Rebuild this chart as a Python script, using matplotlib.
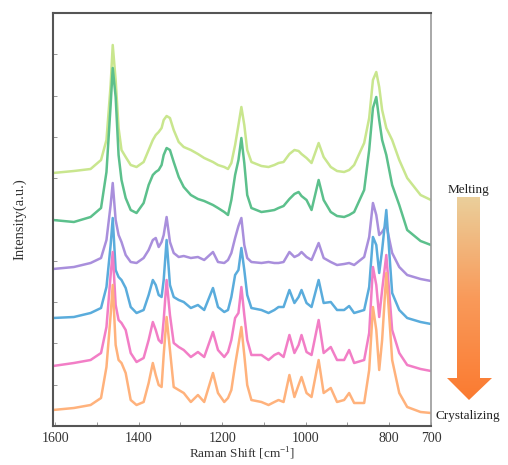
import matplotlib
matplotlib.use('Agg')
import matplotlib.pyplot as plt
from matplotlib.patches import Polygon
import numpy as np

# ~~~~~~~~~~~~ Data ~~~~~~~~~~~~~~~~~~~~~~~~~~~~~~~~~~~
shift = [1605, 1555, 1515, 1490, 1477, 1467, 1462, 1455, 1448, 1441, 1431, 1419, 1405,
         1388, 1376, 1366, 1359, 1352, 1345, 1340, 1333, 1325, 1316, 1304, 1292, 1275,
         1258, 1243, 1222, 1210, 1195, 1186, 1178, 1169, 1161, 1154, 1147, 1140, 1130,
         1106, 1089, 1075, 1065, 1053, 1039, 1027, 1017, 1010, 998, 986, 969, 957, 940,
         925, 908, 896, 884, 860, 848, 839, 831, 824, 817, 807, 793, 776, 757, 725, 700]

melt_1 = [253, 255, 257, 266, 286, 341, 381, 346, 298, 276, 269, 261, 259, 264, 276,
          286, 291, 294, 298, 306, 310, 308, 296, 284, 279, 276, 272, 268, 264, 261, 259,
          257, 263, 281, 301, 319, 301, 276, 264, 260, 259, 261, 263, 264, 272, 276, 275,
          272, 268, 263, 283, 269, 259, 255, 254, 256, 261, 283, 308, 346, 354, 339, 316,
          298, 286, 266, 248, 231, 226]
melt_2 = [206, 204, 209, 218, 254, 321, 358, 329, 271, 246, 228, 216, 213, 223, 241,
          251, 254, 256, 261, 271, 278, 276, 264, 249, 239, 231, 227, 225, 221, 218, 214,
          211, 226, 251, 266, 288, 263, 231, 218, 214, 215, 216, 218, 220, 227, 232, 234,
          230, 226, 216, 246, 226, 214, 210, 209, 211, 214, 236, 276, 318, 329, 306, 286,
          271, 241, 221, 196, 185, 181]
mid_1 = [157, 159, 163, 168, 186, 221, 243, 206, 191, 184, 171, 164, 163, 168, 176,
         186, 188, 179, 184, 191, 209, 184, 173, 169, 170, 168, 169, 166, 174, 164, 163,
         166, 173, 188, 200, 208, 181, 168, 164, 163, 164, 163, 163, 164, 174, 169, 171,
         174, 169, 166, 183, 168, 164, 161, 162, 163, 161, 169, 189, 223, 211, 191, 194,
         201, 173, 159, 151, 147, 145]
mid_2 = [108, 109, 113, 118, 139, 181, 208, 156, 149, 146, 138, 119, 113, 116, 131,
         146, 141, 131, 129, 146, 186, 141, 129, 126, 124, 118, 121, 116, 138, 119, 114,
         116, 129, 151, 156, 178, 156, 131, 118, 116, 113, 116, 119, 119, 136, 123, 129,
         136, 123, 119, 146, 123, 124, 116, 116, 120, 113, 116, 139, 189, 181, 153, 176,
         216, 133, 116, 108, 104, 102]
cryst_1 = [60, 63, 66, 73, 99, 151, 174, 121, 106, 103, 96, 73, 64, 68, 86, 104, 96,
           86, 83, 106, 146, 111, 83, 79, 76, 69, 74, 69, 94, 76, 69, 74, 86, 108, 113,
           139, 111, 86, 71, 71, 66, 71, 73, 69, 91, 73, 81, 91, 74, 71, 106, 73, 79, 66,
           66, 76, 63, 66, 93, 159, 141, 109, 136, 171, 96, 73, 61, 57, 55]
cryst_2 = [16, 18, 21, 28, 59, 111, 141, 81, 66, 63, 53, 26, 21, 24, 43, 63, 51, 41,
           39, 71, 109, 76, 39, 36, 33, 24, 31, 24, 53, 33, 24, 28, 36, 61, 81, 99, 71,
           41, 26, 24, 21, 24, 26, 24, 51, 29, 41, 49, 33, 29, 66, 33, 38, 24, 26, 33, 23,
           23, 56, 119, 96, 56, 86, 153, 66, 33, 19, 14, 13]

spectra = [melt_1, melt_2, mid_1, mid_2, cryst_1, cryst_2]
colors = ['#c9e68e', '#5cc08c', '#a98fdc', '#5aacdc', '#f27ec6', '#ffb27c']
xtick_labels = {1600: '1600', 1400: '1400', 1200: '1200', 1000: '1000', 800: '800', 700: '700'}

plt.rcParams['font.family'] = ['Liberation Serif', 'DejaVu Serif']
plt.rcParams['mathtext.fontset'] = 'custom'
plt.rcParams['mathtext.rm'] = 'Liberation Serif'

fig = plt.figure(figsize=(5.08, 4.65), dpi=100)
ax = fig.add_axes([53 / 508, 39 / 465, 378 / 508, 413 / 465])

for y, c in zip(spectra, colors):
    ax.plot(shift, y, color=c, lw=1.8, solid_joinstyle='round')

ax.set_xlim(1605, 700)
ax.set_ylim(0, 413)
ax.set_xticks(list(range(1600, 699, -100)))
ax.set_xticklabels([xtick_labels.get(t, '') for t in range(1600, 699, -100)], fontsize=10)
ax.set_yticks(np.arange(41.3, 413, 41.3))
ax.set_yticklabels([])
ax.tick_params(direction='in', length=3, width=0.6, colors='#888888', labelcolor='#333333', pad=4)
ax.set_xlabel('Raman Shift [cm$^{-1}$]', fontsize=9.5, color='#333333', labelpad=1)
ax.set_ylabel('Intensity(a.u.)', fontsize=10.5, color='#333333', labelpad=15)

for side in ['top', 'left', 'bottom']:
    ax.spines[side].set_color('#555555')
    ax.spines[side].set_linewidth(1.5)
ax.spines['right'].set_color('#999999')
ax.spines['right'].set_linewidth(1.2)

# ~~~~~~~~ gradient arrow on the right ~~~~~~~~
ov = fig.add_axes([0, 0, 1, 1], zorder=5)
ov.axis('off')
arrow_pts = [(457, 197), (480, 197), (480, 378), (492, 378), (469, 400),
             (447, 378), (457, 378)]
arrow = Polygon(arrow_pts, closed=True, facecolor='none', edgecolor='none')
ov.add_patch(arrow)
grad = np.linspace(0, 1, 256).reshape(-1, 1)
cmap = matplotlib.colors.LinearSegmentedColormap.from_list('melt', ['#ead09c', '#f99a5a', '#fb7a30'])
im = ov.imshow(grad, extent=[445, 494, 401, 196], cmap=cmap, aspect='auto', origin='upper')
im.set_clip_path(arrow)
ov.set_xlim(0, 508)
ov.set_ylim(465, 0)

ov.text(468, 190, 'Melting', ha='center', va='center', fontsize=9.5, color='#222222')
ov.text(435, 416, 'Crystalizing', ha='left', va='center', fontsize=9.5, color='#222222')

fig.savefig('out.png', dpi=100)
